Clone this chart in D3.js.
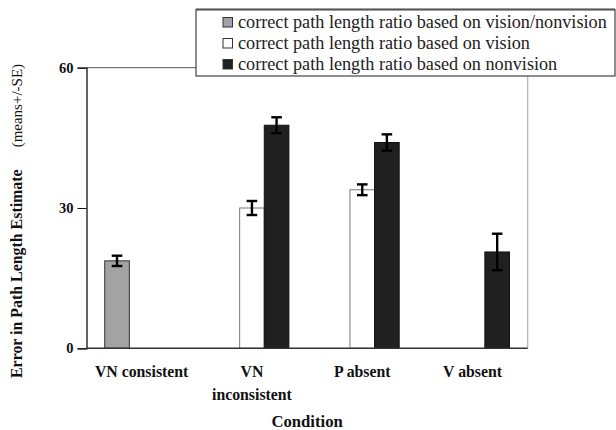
<!DOCTYPE html>
<html>
<head>
<meta charset="utf-8">
<script src="https://cdn.jsdelivr.net/npm/d3@7"></script>
<style>
  html, body { margin: 0; padding: 0; background: #fff; }
  svg, svg text { font-family: "Liberation Serif", "Times New Roman", Times, "DejaVu Serif", serif; }
</style>
</head>
<body>
<svg id="chart" width="616" height="430"></svg>
<script>
// Conditions on the x axis ("\n" marks a line break in the label)
const categories = ["VN consistent", "VN\ninconsistent", "P absent", "V absent"];

// Series names, as shown in the legend
const seriesNames = [
  "correct path length ratio based on vision/nonvision",
  "correct path length ratio based on vision",
  "correct path length ratio based on nonvision"
];

// Mean error in path length estimate per condition (null = no bar)
const meanVisionNonvision = [18.7, null, null, null];
const meanVision          = [null, 30.0, 33.9, null];
const meanNonvision       = [null, 47.7, 44.0, 20.6];

// Standard errors
const seVisionNonvision = [1.1, null, null, null];
const seVision          = [null, 1.5, 1.15, null];
const seNonvision       = [null, 1.7, 1.75, 3.9];

// Y axis ticks
const yTicks = [0, 30, 60];

const FONT = '"Liberation Serif", "Times New Roman", Times, "DejaVu Serif", serif';

const seriesStyle = [
  { fill: "#a3a3a3", stroke: "#333" },
  { fill: "#ffffff", stroke: "#777" },
  { fill: "#202020", stroke: "#111" }
];

const means = [meanVisionNonvision, meanVision, meanNonvision];
const ses = [seVisionNonvision, seVision, seNonvision];

const svg = d3.select("#chart").attr("font-family", FONT);
const plotLeft = 86.5, plotRight = 527.7, plotTop = 67.7, plotBottom = 348.3;

const x0 = d3.scaleBand().domain(categories).range([plotLeft, plotRight]).padding(0);
const x1 = d3.scaleBand().domain(d3.range(seriesNames.length))
  .range([0, x0.bandwidth()]).paddingInner(0).paddingOuter(0.74);
const y = d3.scaleLinear().domain([0, 60]).range([plotBottom, plotTop]);

// Plot frame: top line and light right edge
svg.append("line").attr("x1", plotLeft).attr("x2", plotRight).attr("y1", y(60)).attr("y2", y(60))
  .attr("stroke", "#555").attr("stroke-width", 1);
svg.append("line").attr("x1", plotRight).attr("x2", plotRight).attr("y1", y(60)).attr("y2", y(0))
  .attr("stroke", "#b0b0b0").attr("stroke-width", 1.2);

// Bars
const barData = [];
categories.forEach((c, i) => {
  seriesNames.forEach((s, k) => {
    if (means[k][i] != null) barData.push({ c, k, v: means[k][i], se: ses[k][i] });
  });
});

svg.append("g").selectAll("rect").data(barData).join("rect")
  .attr("x", d => x0(d.c) + x1(d.k))
  .attr("y", d => y(d.v))
  .attr("width", x1.bandwidth())
  .attr("height", d => y(0) - y(d.v))
  .attr("fill", d => seriesStyle[d.k].fill)
  .attr("stroke", d => seriesStyle[d.k].stroke)
  .attr("stroke-width", 1);

// Error bars (mean +/- SE)
const eb = svg.append("g").attr("stroke", "#000").attr("stroke-width", 2.4);
barData.forEach(d => {
  const cx = x0(d.c) + x1(d.k) + x1.bandwidth() / 2;
  const hw = 5.3;
  eb.append("line").attr("x1", cx).attr("x2", cx).attr("y1", y(d.v + d.se)).attr("y2", y(d.v - d.se));
  eb.append("line").attr("x1", cx - hw).attr("x2", cx + hw).attr("y1", y(d.v + d.se)).attr("y2", y(d.v + d.se));
  eb.append("line").attr("x1", cx - hw).attr("x2", cx + hw).attr("y1", y(d.v - d.se)).attr("y2", y(d.v - d.se));
});

// Y axis
const yAxis = svg.append("g").attr("transform", `translate(${plotLeft},0)`)
  .call(d3.axisLeft(y).tickValues(yTicks).tickSize(9).tickPadding(4))
  .attr("font-family", FONT);
yAxis.select(".domain").attr("stroke", "#111").attr("stroke-width", 1.3);
yAxis.selectAll(".tick line").attr("stroke", "#111").attr("stroke-width", 1);
yAxis.selectAll(".tick text").attr("font-size", 14.5)
  .attr("font-weight", "bold").attr("fill", "#111");

// X axis baseline
svg.append("line").attr("x1", plotLeft).attr("x2", plotRight).attr("y1", y(0)).attr("y2", y(0))
  .attr("stroke", "#333").attr("stroke-width", 1.5);

// Category labels
const catG = svg.append("g").attr("font-size", 15.8).attr("font-weight", "bold")
  .attr("text-anchor", "middle").attr("fill", "#111");
categories.forEach(c => {
  const cx = x0(c) + x0.bandwidth() / 2;
  const t = catG.append("text").attr("x", cx).attr("y", 377);
  c.split("\n").forEach((line, j) => {
    t.append("tspan").attr("x", cx).attr("dy", j === 0 ? 0 : 23).text(line);
  });
});

// X axis title
svg.append("text").attr("x", (plotLeft + plotRight) / 2).attr("y", 427)
  .attr("text-anchor", "middle").attr("font-size", 16.7).attr("font-weight", "bold")
  .attr("fill", "#111").text("Condition");

// Y axis title
const yt = svg.append("text").attr("transform", "translate(22,378) rotate(-90)")
  .attr("fill", "#111");
yt.append("tspan").attr("font-size", 15.9).attr("font-weight", "bold").text("Error in Path Length Estimate");
yt.append("tspan").attr("font-size", 15).attr("dx", 22).text("(means+/-SE)");

// Legend
const lg = svg.append("g").attr("transform", "translate(196,9.5)");
lg.append("rect").attr("width", 419).attr("height", 66.5)
  .attr("fill", "#fff").attr("stroke", "#444").attr("stroke-width", 1.2);
lg.append("line").attr("x1", 0).attr("x2", 419).attr("y1", 0).attr("y2", 0)
  .attr("stroke", "#555").attr("stroke-width", 2);
seriesNames.forEach((s, k) => {
  const cy = 13 + k * 21;
  lg.append("rect").attr("x", 27).attr("y", cy - 5).attr("width", 9.5).attr("height", 9.5)
    .attr("fill", seriesStyle[k].fill).attr("stroke", "#333").attr("stroke-width", 1);
  lg.append("text").attr("x", 42).attr("y", cy + 5.5).attr("font-size", 18.2)
    .attr("fill", "#222").text(s);
});
</script>
</body>
</html>
